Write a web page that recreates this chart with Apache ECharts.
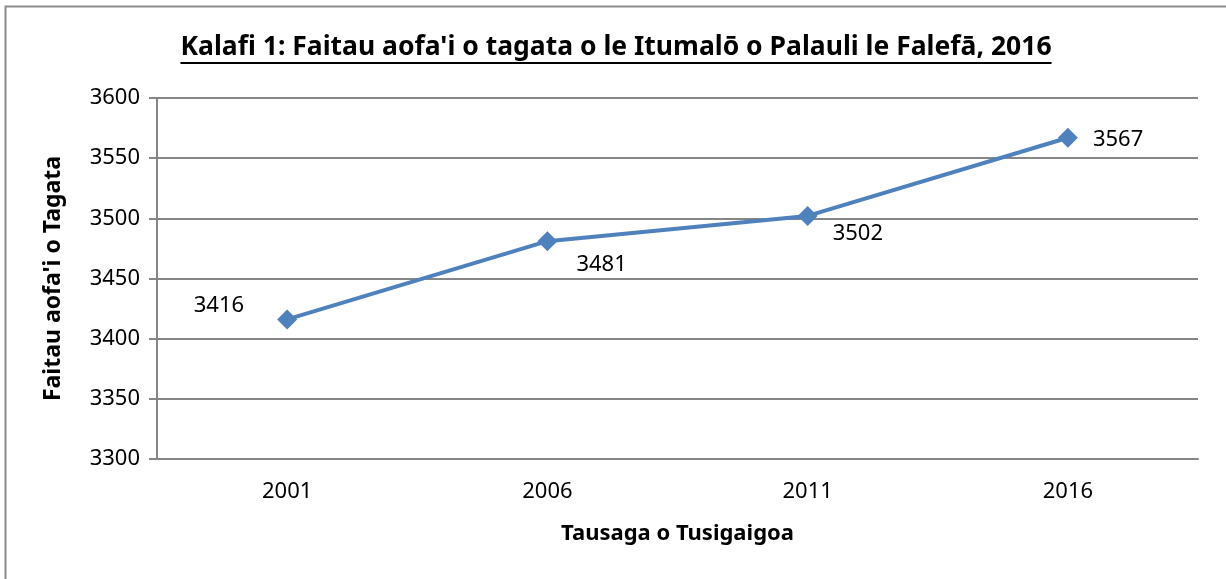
<!DOCTYPE html>
<html>
<head>
<meta charset="utf-8">
<script src="https://cdn.jsdelivr.net/npm/echarts@6/dist/echarts.min.js"></script>
<style>
  html, body { margin: 0; padding: 0; background: #fff; }
  #chart { width: 1226px; height: 579px; }
</style>
</head>
<body>
<div id="chart"></div>
<script>
  // data
  const years = ['2001', '2006', '2011', '2016'];
  const population = [3416, 3481, 3502, 3567];
  const labelPositions = ['left', 'right', 'right', 'right'];

  const titleText = "Kalafi 1: Faitau aofa'i o tagata o le Itumalō o Palauli le Falefā, 2016";
  const yName = "Faitau aofa'i o Tagata";
  const xName = 'Tausaga o Tusigaigoa';

  const FONT = '"Noto Sans", "Open Sans", sans-serif';
  const titleFont = 'bold 26.5px ' + FONT;

  // measure title to place the underline
  const ctx = document.createElement('canvas').getContext('2d');
  ctx.font = titleFont;
  const titleW = ctx.measureText(titleText).width;
  const titleCx = 616;

  const chart = echarts.init(document.getElementById('chart'), null, { renderer: 'canvas' });

  // per point label tweak (offsets only)
  const labelOffsets = [[-8, -14], [-6, 24], [-10, 18], [-10, 2]];

  const seriesData = population.map((v, i) => ({
    value: v,
    label: { position: labelPositions[i], offset: labelOffsets[i] },
  }));

  chart.setOption({
    animation: false,
    textStyle: { fontFamily: FONT },
    graphic: [
      {
        type: 'rect',
        shape: { x: 5.5, y: 6.5, width: 1300, height: 700 },
        style: { fill: 'none', stroke: '#8c8c8c', lineWidth: 2 },
        silent: true,
      },
      {
        type: 'text',
        x: titleCx,
        y: 47,
        style: {
          text: titleText,
          font: titleFont,
          fill: '#000',
          align: 'center',
          verticalAlign: 'middle',
        },
      },
      {
        type: 'line',
        shape: { x1: titleCx - titleW / 2, y1: 63, x2: titleCx + titleW / 2, y2: 63 },
        style: { stroke: '#000', lineWidth: 2 },
      },
    ],
    grid: { left: 157, right: 28, top: 98, bottom: 120, containLabel: false },
    xAxis: {
      type: 'category',
      data: years,
      boundaryGap: true,
      name: xName,
      nameLocation: 'middle',
      nameGap: 64,
      nameTextStyle: { fontSize: 22, fontWeight: 'bold', color: '#000', fontFamily: FONT },
      axisLine: { lineStyle: { color: '#868686', width: 2 } },
      axisTick: { show: false },
      axisLabel: { fontSize: 22, color: '#000', margin: 22, fontFamily: FONT },
    },
    yAxis: {
      type: 'value',
      min: 3300,
      max: 3600,
      interval: 50,
      name: yName,
      nameLocation: 'middle',
      nameGap: 92,
      nameTextStyle: { fontSize: 23, fontWeight: 'bold', color: '#000', fontFamily: FONT },
      axisLine: { show: true, lineStyle: { color: '#868686', width: 2 } },
      axisTick: { show: true, length: 8, lineStyle: { color: '#868686', width: 2 } },
      axisLabel: {
        fontSize: 22,
        color: '#000',
        margin: 17,
        fontFamily: FONT,
        formatter: (v) => String(v),
      },
      splitLine: { show: true, lineStyle: { color: '#868686', width: 2 } },
    },
    series: [
      {
        type: 'line',
        data: seriesData,
        symbol: 'diamond',
        symbolSize: 20,
        showAllSymbol: true,
        lineStyle: { color: '#4F81BD', width: 4 },
        itemStyle: { color: '#4F81BD' },
        label: {
          show: true,
          fontSize: 22,
          color: '#000',
          distance: 25,
          fontFamily: FONT,
        },
      },
    ],
  });
</script>
</body>
</html>
